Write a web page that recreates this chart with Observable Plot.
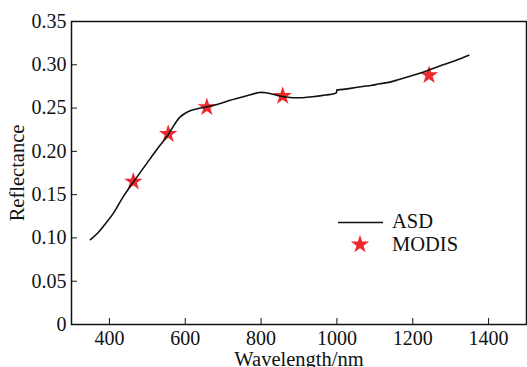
<!DOCTYPE html>
<html><head><meta charset="utf-8">
<script src="https://cdn.jsdelivr.net/npm/d3@7"></script>
<script src="https://cdn.jsdelivr.net/npm/@observablehq/plot@0.6"></script>
<style>
body{margin:0;background:#fff;}
#wrap{position:relative;width:527px;height:367px;overflow:hidden;font-family:"Liberation Serif","Times New Roman",serif;}
#legend{position:absolute;left:336px;top:210px;font-size:20.5px;line-height:23px;color:#111;}
#legend div{display:flex;align-items:center;height:23px;}
#legend svg{width:50px;height:23px;margin-right:6px;}
#chart svg [aria-label="x-axis label"] text, #chart svg [aria-label="y-axis label"] text{font-size:20.5px;}
</style></head>
<body><div id="wrap"><div id="chart"></div>
<div id="legend">
<div><svg><line x1="2" x2="47" y1="12.5" y2="12.5" stroke="#111" stroke-width="1.5"/></svg>ASD</div>
<div><svg><path id="lstar" transform="translate(24,11.5)" fill="#ee2a2e"/></svg>MODIS</div>
</div></div>
<script>
const asdWavelength = [350, 370, 389, 411, 437, 464, 500, 530, 553, 570, 586, 600, 613, 630, 652, 690, 718, 760, 796, 815, 831, 860, 884, 910, 936, 970, 998, 1000, 1002, 1040, 1068, 1090, 1112, 1140, 1164, 1195, 1225, 1255, 1287, 1320, 1348];
const asdReflectance = [0.098, 0.106, 0.116, 0.129, 0.148, 0.165, 0.187, 0.205, 0.218, 0.230, 0.2395, 0.244, 0.247, 0.249, 0.251, 0.255, 0.259, 0.264, 0.268, 0.2675, 0.266, 0.263, 0.262, 0.262, 0.263, 0.265, 0.2675, 0.271, 0.271, 0.273, 0.275, 0.276, 0.278, 0.280, 0.283, 0.287, 0.291, 0.296, 0.301, 0.306, 0.311];
const modisWavelength = [463, 555, 657, 857, 1243];
const modisReflectance = [0.165, 0.220, 0.251, 0.264, 0.288];
const xTicks = [400, 600, 800, 1000, 1200, 1400];
const yTicks = [0, 0.05, 0.10, 0.15, 0.20, 0.25, 0.30, 0.35];

const asd = asdWavelength.map((w, i) => ({w, r: asdReflectance[i]}));
const modis = modisWavelength.map((w, i) => ({w, r: modisReflectance[i]}));

const chart = Plot.plot({
  width: 527, height: 367,
  marginLeft: 71, marginRight: 1, marginTop: 21, marginBottom: 43,
  style: {fontFamily: '"Liberation Serif","Times New Roman",serif', fontSize: "20px", color: "#111", background: "#fff"},
  x: {domain: [300, 1500]},
  y: {domain: [0, 0.35]},
  marks: [
    Plot.frame({stroke: "#111", strokeWidth: 1.5}),
    Plot.axisX({ticks: xTicks, tickSize: -6, tickPadding: 12, tickFormat: d => String(d), label: "Wavelength/nm", labelAnchor: "center", labelArrow: "none", labelOffset: 41, fontSize: 20}),
    Plot.axisY({ticks: yTicks, tickSize: -6, tickPadding: 11, tickFormat: d => d === 0 ? "0" : d.toFixed(2), label: "Reflectance", labelAnchor: "center", labelArrow: "none", labelOffset: 62, fontSize: 20}),
    Plot.dot(modis, {x: "w", y: "r", symbol: "star", r: 5.8, fill: "#ee2a2e", stroke: "none"}),
    Plot.line(asd, {x: "w", y: "r", stroke: "#111", strokeWidth: 1.6, curve: "catmull-rom"})
  ]
});
document.getElementById("chart").appendChild(chart);
document.getElementById("lstar").setAttribute("d", d3.symbol(d3.symbolStar, Math.PI * 5.8 * 5.8)());
</script></body></html>
